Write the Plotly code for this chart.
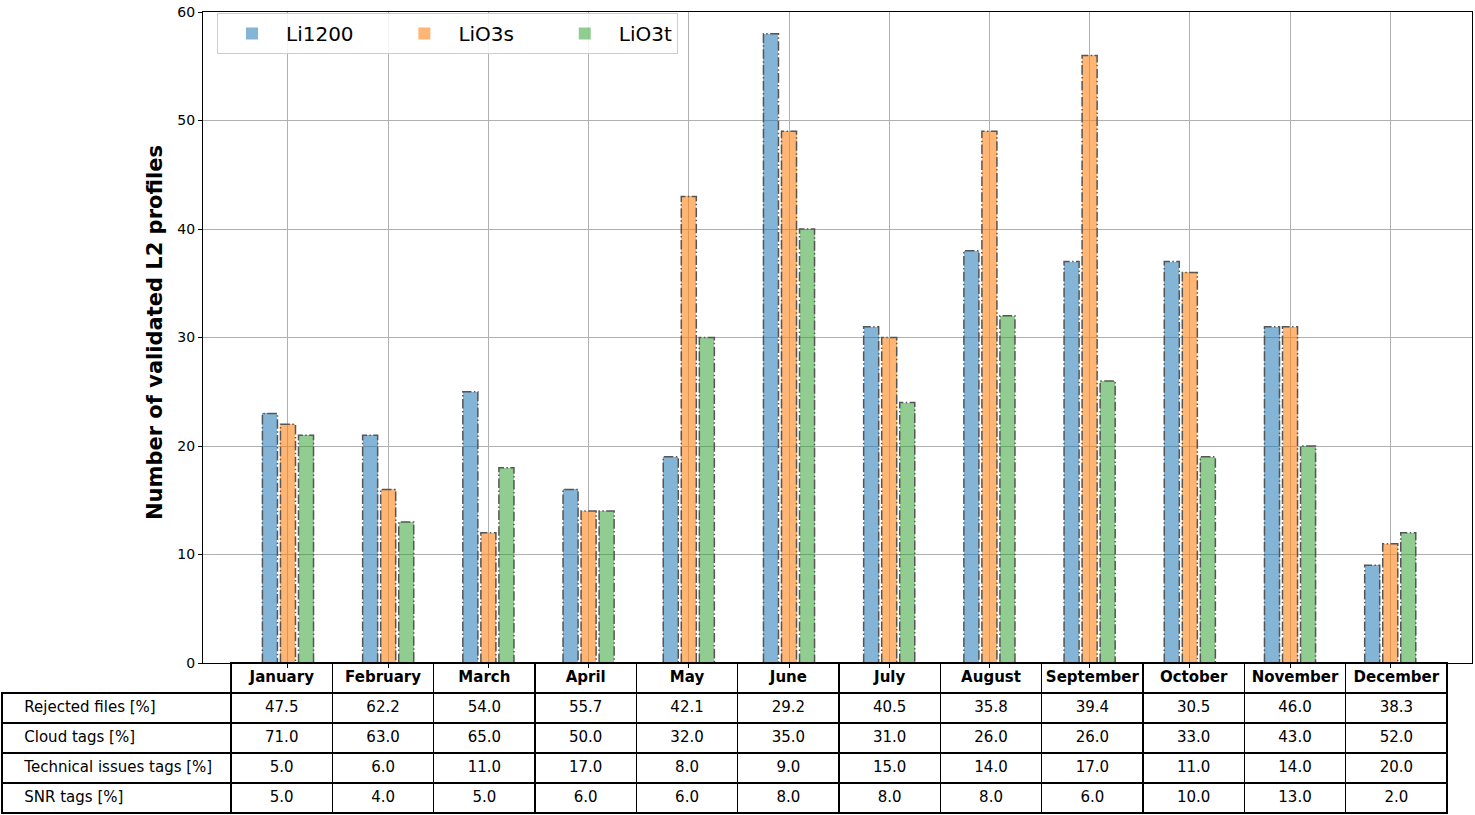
import plotly.graph_objects as go

months = ["January", "February", "March", "April", "May", "June", "July",
          "August", "September", "October", "November", "December"]
li1200 = [23, 21, 25, 16, 19, 58, 31, 38, 37, 37, 31, 9]
lio3s = [22, 16, 12, 14, 43, 49, 30, 49, 56, 36, 31, 11]
lio3t = [21, 13, 18, 14, 30, 40, 24, 32, 26, 19, 20, 12]

row_labels = ["Rejected files [%]", "Cloud tags [%]", "Technical issues tags [%]", "SNR tags [%]"]
rejected = [47.5, 62.2, 54.0, 55.7, 42.1, 29.2, 40.5, 35.8, 39.4, 30.5, 46.0, 38.3]
cloud = [71.0, 63.0, 65.0, 50.0, 32.0, 35.0, 31.0, 26.0, 26.0, 33.0, 43.0, 52.0]
technical = [5.0, 6.0, 11.0, 17.0, 8.0, 9.0, 15.0, 14.0, 17.0, 11.0, 14.0, 20.0]
snr = [5.0, 4.0, 5.0, 6.0, 6.0, 8.0, 8.0, 8.0, 6.0, 10.0, 13.0, 2.0]

W, H = 1475, 815
px = lambda x: min(1.0, max(0.0, x / W))
py = lambda y: min(1.0, max(0.0, 1 - y / H))

series = [
    ("Li1200", li1200, "rgba(31,119,180,0.55)", -0.18),
    ("LiO3s", lio3s, "rgba(255,127,14,0.58)", 0.0),
    ("LiO3t", lio3t, "rgba(44,160,44,0.52)", 0.18),
]
bw = 0.15
idx = list(range(len(months)))
pad_name = "\u00a0" * 5

fig = go.Figure()
for k, (name, vals, col, off) in enumerate(series):
    xs = [i + off for i in idx]
    label = name + (pad_name if k < len(series) - 1 else "")
    fig.add_trace(go.Bar(x=xs, y=vals, width=bw, name=label,
                         marker=dict(color=col, line=dict(width=0))))
for name, vals, col, off in series:
    ox, oy = [], []
    for i, v in zip(idx, vals):
        c = i + off
        ox += [c - bw / 2, c - bw / 2, c + bw / 2, c + bw / 2, c - bw / 2, None]
        oy += [0, v, v, 0, 0, None]
    fig.add_trace(go.Scatter(x=ox, y=oy, mode="lines", showlegend=False, hoverinfo="skip",
                             line=dict(color="#555555", width=1.5, dash="9.6px,2.4px,1.5px,2.4px")))

# table
fmt = lambda v: f"{v:.1f}"
label_pad = "\u00a0" * 3
header_vals = [""] + months
cell_cols = [[label_pad + r for r in row_labels]]
for j in range(12):
    cell_cols.append([fmt(rejected[j]), fmt(cloud[j]), fmt(technical[j]), fmt(snr[j])])

fig.add_trace(go.Table(
    domain=dict(x=[px(2), px(1447)], y=[0, py(663)]),
    columnwidth=[229] + [101.3] * 12,
    header=dict(values=header_vals, height=30, align="center",
                line=dict(color=["rgba(0,0,0,0)"] + ["black"] * 12, width=[0] + [1.5] * 12),
                fill=dict(color="rgba(0,0,0,0)"),
                font=dict(family="DejaVu Sans", size=15, color="black", weight="bold")),
    cells=dict(values=cell_cols, height=30, align=["left"] + ["center"] * 12,
               line=dict(color="black", width=1.5), fill=dict(color="white"),
               font=dict(family="DejaVu Sans", size=15, color="black")),
))

fig.add_annotation(text="<b>Number of validated L2 profiles</b>", textangle=-90,
                   xref="paper", yref="paper", x=px(155), y=py(333),
                   xanchor="center", yanchor="middle",
                   showarrow=False, font=dict(family="DejaVu Sans", size=21, color="black"))

fig.update_layout(
    width=W, height=H, margin=dict(l=0, r=0, t=0, b=0, autoexpand=False),
    paper_bgcolor="white", plot_bgcolor="white",
    barmode="overlay", bargap=0,
    font=dict(family="DejaVu Sans", size=14, color="black"),
    legend=dict(orientation="h", x=px(217), y=py(13), xanchor="left", yanchor="top",
                font=dict(size=20), bordercolor="#cccccc", borderwidth=1,
                itemwidth=58, bgcolor="rgba(255,255,255,0.85)"),
    xaxis=dict(domain=[px(203), px(1472)], range=[-0.848, 11.816], tickvals=idx,
               ticktext=[""] * 12, ticks="outside", ticklen=4, tickcolor="black",
               showgrid=True, gridcolor="#b0b0b0", gridwidth=1, zeroline=False, automargin=False,
               showline=True, linecolor="black", linewidth=1, mirror=True),
    yaxis=dict(domain=[py(663), py(12)], range=[0, 60], dtick=10, ticks="outside",
               ticklen=4, tickcolor="black", showgrid=True, gridcolor="#b0b0b0", gridwidth=1,
               zeroline=False, showline=True, linecolor="black", linewidth=1, mirror=True,
               automargin=False, ticklabeloverflow="allow", tickfont=dict(size=14)),
)
fig.write_html("out.html", config={"displayModeBar": False},
               post_script="document.body.style.margin='0';")
